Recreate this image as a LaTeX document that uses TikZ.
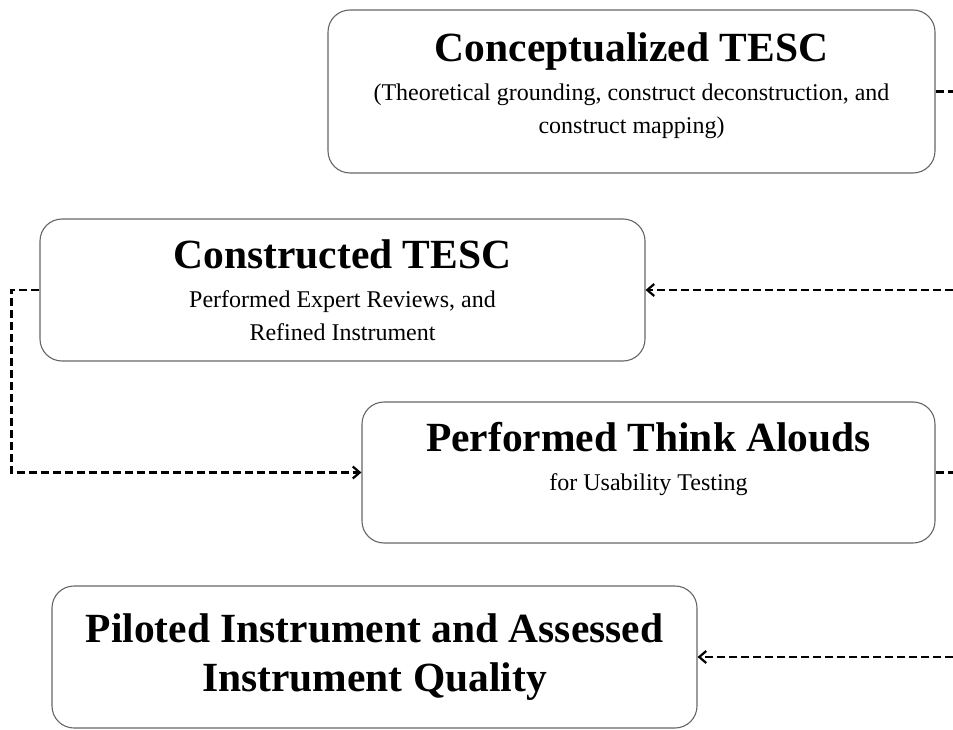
\documentclass[tikz,border=0pt]{standalone}
\usepackage{fontspec}
\setmainfont{Liberation Serif}
\usetikzlibrary{positioning, arrows.meta}
\tikzset{
	stage/.style={rectangle,draw=black!60,line width=1.1pt,rounded corners=22pt,fill=white,inner sep=0pt},
	headtext/.style={anchor=base,inner sep=0pt,align=center,font=\fontsize{41.5}{49}\selectfont\bfseries},
	subtext/.style={anchor=base,inner sep=0pt,align=center,font=\fontsize{24}{33}\selectfont},
	flow/.style={line width=2.2pt,dash pattern=on 8pt off 4pt},
	barb/.style={-{Straight Barb[length=7pt,width=12pt]}}
}
\begin{document}
\begin{tikzpicture}[x=1pt,y=-1pt]
				\useasboundingbox (0,0) rectangle (953,730);
				\node (concept) [stage,minimum width=607pt,minimum height=163pt] at (631.5,91.5) {};
				\node (construct) [stage,minimum width=605pt,minimum height=142pt] at (342.5,290) {};
				\node (think) [stage,minimum width=573pt,minimum height=141pt] at (648.5,472.5) {};
				\node (pilot) [stage,minimum width=645pt,minimum height=142pt] at (374.5,657) {};
				\node (conceptT) [headtext] at ([yshift=-52pt]concept.north) {Conceptualized TESC};
				\node (conceptS) [subtext] at ([yshift=-124pt]concept.north) {(Theoretical grounding, construct deconstruction, and\\construct mapping)};
				\node (constructT) [headtext] at ([yshift=-50pt]construct.north) {Constructed TESC};
				\node (constructS) [subtext] at ([yshift=-122pt]construct.north) {Performed Expert Reviews, and\\Refined Instrument};
				\node (thinkT) [headtext] at ([yshift=-50pt]think.north) {Performed Think Alouds};
				\node (thinkS) [subtext] at ([yshift=-89pt]think.north) {for Usability Testing};
				\node (pilotT) [headtext] at ([yshift=-106pt]pilot.north) {Piloted Instrument and Assessed\\Instrument Quality};
				\coordinate (edgeA) at (953,91.5);
				\coordinate (edgeB) at (953,290);
				\coordinate (edgeC) at (953,472.5);
				\coordinate (edgeD) at (953,657);
				\draw [flow](concept.east) -- (edgeA);
				\draw [flow,barb](edgeB) -- (construct.east);
				\draw [flow,barb](construct.west) -- ++(-28,0) |- (think.west);
				\draw [flow](think.east) -- (edgeC);
				\draw [flow,barb](edgeD) -- (pilot.east);
			\end{tikzpicture}
\end{document}
